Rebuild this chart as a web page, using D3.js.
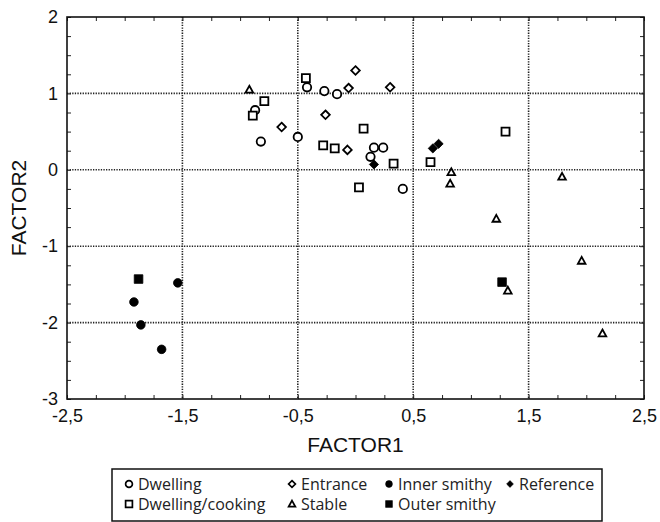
<!DOCTYPE html>
<html>
<head>
<meta charset="utf-8">
<script src="https://cdn.jsdelivr.net/npm/d3@7"></script>
<style>
  body { margin: 0; background: #fff; }
  svg { display: block; }
</style>
</head>
<body>
<div id="chart"></div>
<script>
// factor scores, [FACTOR1, FACTOR2]
const dwelling = [[-0.42, 1.08], [-0.27, 1.03], [-0.16, 0.99], [-0.87, 0.78], [-0.82, 0.37],
  [-0.50, 0.43], [0.16, 0.29], [0.24, 0.29], [0.13, 0.17], [0.41, -0.25]];
const dwellingCooking = [[-0.43, 1.20], [-0.79, 0.90], [-0.89, 0.71], [0.07, 0.54], [-0.28, 0.32],
  [-0.18, 0.28], [0.33, 0.08], [0.65, 0.10], [0.03, -0.23], [1.30, 0.50]];
const entrance = [[0.00, 1.30], [-0.06, 1.07], [0.30, 1.08], [-0.26, 0.72], [-0.64, 0.56], [-0.07, 0.26]];
const stable = [[-0.92, 1.05], [0.83, -0.03], [0.82, -0.18], [1.79, -0.09], [1.22, -0.64],
  [1.96, -1.19], [1.32, -1.58], [2.14, -2.14]];
const innerSmithy = [[-1.54, -1.48], [-1.92, -1.73], [-1.86, -2.03], [-1.68, -2.35]];
const outerSmithy = [[-1.88, -1.43], [1.27, -1.47]];
const reference = [[0.16, 0.07], [0.67, 0.28], [0.72, 0.34]];

const xTicks = [-2.5, -1.5, -0.5, 0.5, 1.5, 2.5];
const yTicks = [-3, -2, -1, 0, 1, 2];
const xGrid = [-1.5, -0.5, 0.5, 1.5];
const yGrid = [-2, -1, 0, 1];

const width = 660, height = 522;
const plot = { left: 67, right: 644, top: 17, bottom: 399 };

const svg = d3.select("#chart").append("svg")
  .attr("width", width)
  .attr("height", height);

const x = d3.scaleLinear().domain([-2.5, 2.5]).range([plot.left, plot.right]);
const y = d3.scaleLinear().domain([-3, 2]).range([plot.bottom, plot.top]);

// marker paths, centred on 0,0
function shape(kind, s) {
  const p = d3.path();
  if (kind === "circle") {
    p.arc(0, 0, s, 0, 2 * Math.PI);
  } else if (kind === "square") {
    p.rect(-s, -s, 2 * s, 2 * s);
  } else if (kind === "diamond") {
    p.moveTo(0, -s); p.lineTo(s, 0); p.lineTo(0, s); p.lineTo(-s, 0); p.closePath();
  } else if (kind === "triangle") {
    p.moveTo(0, -s); p.lineTo(s, s * 0.8); p.lineTo(-s, s * 0.8); p.closePath();
  }
  return p.toString();
}

const groups = [
  { name: "Dwelling", data: dwelling, kind: "circle", filled: false, size: 4.2 },
  { name: "Dwelling/cooking", data: dwellingCooking, kind: "square", filled: false, size: 4 },
  { name: "Entrance", data: entrance, kind: "diamond", filled: false, size: 4.3 },
  { name: "Stable", data: stable, kind: "triangle", filled: false, size: 3.8 },
  { name: "Inner smithy", data: innerSmithy, kind: "circle", filled: true, size: 4.3 },
  { name: "Outer smithy", data: outerSmithy, kind: "square", filled: true, size: 4.3 },
  { name: "Reference", data: reference, kind: "diamond", filled: true, size: 4.6 }
];

// dotted grid
svg.append("g").selectAll("line")
  .data(xGrid)
  .enter().append("line")
  .attr("x1", d => x(d)).attr("x2", d => x(d))
  .attr("y1", plot.top).attr("y2", plot.bottom)
  .attr("stroke", "#222").attr("stroke-width", 1.6)
  .attr("stroke-dasharray", "1.3,1.3");

svg.append("g").selectAll("line")
  .data(yGrid)
  .enter().append("line")
  .attr("x1", plot.left).attr("x2", plot.right)
  .attr("y1", d => y(d)).attr("y2", d => y(d))
  .attr("stroke", "#222").attr("stroke-width", 1.6)
  .attr("stroke-dasharray", "1.3,1.3");

// small inward ticks every 0.25 on every side
const minorX = d3.range(-2.5, 2.501, 0.25);
const minorY = d3.range(-3, 2.001, 0.25);
function minor(axis) {
  return axis.tickSize(-4).tickFormat("");
}
svg.append("g").attr("class", "minor").attr("transform", "translate(0," + plot.bottom + ")")
  .call(minor(d3.axisBottom(x).tickValues(minorX)));
svg.append("g").attr("class", "minor").attr("transform", "translate(0," + plot.top + ")")
  .call(minor(d3.axisTop(x).tickValues(minorX)));
svg.append("g").attr("class", "minor").attr("transform", "translate(" + plot.left + ",0)")
  .call(minor(d3.axisLeft(y).tickValues(minorY)));
svg.append("g").attr("class", "minor").attr("transform", "translate(" + plot.right + ",0)")
  .call(minor(d3.axisRight(y).tickValues(minorY)));
svg.selectAll(".minor .domain").remove();
svg.selectAll(".minor line").attr("stroke", "#222").attr("stroke-width", 1);

// frame
svg.append("rect")
  .attr("x", plot.left).attr("y", plot.top)
  .attr("width", plot.right - plot.left).attr("height", plot.bottom - plot.top)
  .attr("fill", "none").attr("stroke", "#111").attr("stroke-width", 1.6);

// tick labels
const comma = d => String(d).replace(".", ",");
const xAxis = svg.append("g")
  .attr("transform", "translate(0," + plot.bottom + ")")
  .call(d3.axisBottom(x).tickValues(xTicks).tickSize(0).tickPadding(10).tickFormat(comma));
const yAxis = svg.append("g")
  .attr("transform", "translate(" + plot.left + ",0)")
  .call(d3.axisLeft(y).tickValues(yTicks).tickSize(0).tickPadding(9).tickFormat(comma));
[xAxis, yAxis].forEach(a => {
  a.select(".domain").remove();
  a.selectAll("text")
    .style("font-family", "'Liberation Sans', Arial, sans-serif")
    .style("font-size", "18px")
    .attr("fill", "#111");
});

// axis titles
svg.append("text")
  .attr("x", (plot.left + plot.right) / 2)
  .attr("y", 452)
  .attr("text-anchor", "middle")
  .style("font-family", "'Liberation Sans', Arial, sans-serif")
  .style("font-size", "21px")
  .attr("fill", "#111")
  .text("FACTOR1");

svg.append("text")
  .attr("transform", "translate(26," + (plot.top + plot.bottom) / 2 + ") rotate(-90)")
  .attr("text-anchor", "middle")
  .style("font-family", "'Liberation Sans', Arial, sans-serif")
  .style("font-size", "21px")
  .attr("fill", "#111")
  .text("FACTOR2");

// points
groups.forEach(g => {
  svg.append("g").selectAll("path")
    .data(g.data)
    .enter().append("path")
    .attr("transform", d => "translate(" + x(d[0]) + "," + y(d[1]) + ")")
    .attr("d", shape(g.kind, g.size))
    .attr("fill", g.filled ? "#000" : "#fff")
    .attr("stroke", "#000")
    .attr("stroke-width", g.filled ? 0.8 : 1.8);
});

// legend
const legend = svg.append("g");
legend.append("rect")
  .attr("x", 112).attr("y", 469)
  .attr("width", 490).attr("height", 52)
  .attr("fill", "#fff").attr("stroke", "#111").attr("stroke-width", 1.5);

const legendPos = {
  "Dwelling": [129, 484], "Dwelling/cooking": [129, 504],
  "Entrance": [292, 484], "Stable": [292, 504],
  "Inner smithy": [389, 484], "Outer smithy": [389, 504],
  "Reference": [510, 484]
};
groups.forEach(g => {
  const [lx, ly] = legendPos[g.name];
  legend.append("path")
    .attr("transform", "translate(" + lx + "," + ly + ")")
    .attr("d", shape(g.kind, g.kind === "triangle" ? 3.4 : 3.4))
    .attr("fill", g.filled ? "#000" : "#fff")
    .attr("stroke", "#000")
    .attr("stroke-width", g.filled ? 0.6 : 1.7);
  legend.append("text")
    .attr("x", lx + 9)
    .attr("y", ly + 6)
    .style("font-family", "'Open Sans', sans-serif")
    .style("font-size", "16px")
    .attr("fill", "#222")
    .text(g.name);
});
</script>
</body>
</html>
